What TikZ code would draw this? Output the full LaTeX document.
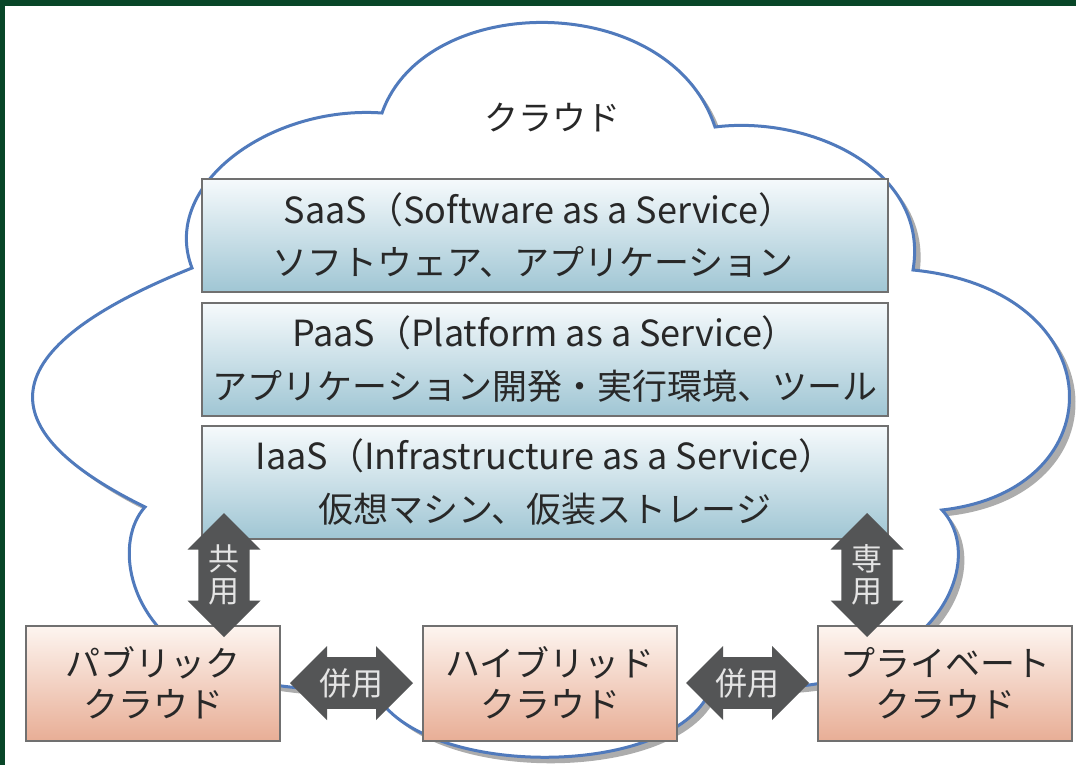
\documentclass[tikz,border=0pt]{standalone}
\usepackage{fontspec}
\setmainfont{Noto Sans CJK JP}
\usetikzlibrary{shapes.arrows,calc}

\definecolor{framegreen}{RGB}{8,70,40}
\definecolor{cloudline}{RGB}{80,122,188}
\definecolor{cloudshade}{RGB}{172,172,172}
\definecolor{layertop}{RGB}{246,250,252}
\definecolor{layerbot}{RGB}{160,198,212}
\definecolor{peachtop}{RGB}{253,245,240}
\definecolor{peachbot}{RGB}{232,174,150}
\definecolor{edgegray}{RGB}{112,112,112}
\definecolor{arrowgray}{RGB}{84,85,86}
\definecolor{arrowtext}{RGB}{228,228,228}
\definecolor{ink}{RGB}{40,40,40}

\tikzset{
  layerbox/.style={draw=edgegray, line width=2pt, top color=layertop, bottom color=layerbot,
    minimum width=686pt, minimum height=113pt, inner sep=0pt, align=center, text=ink},
  kindbox/.style={draw=edgegray, line width=2pt, top color=peachtop, bottom color=peachbot,
    minimum width=254pt, minimum height=115pt, inner sep=0pt, align=center, text=ink,
    font=\fontsize{35pt}{41pt}\selectfont},
  harrow/.style={double arrow, double arrow tip angle=90, fill=arrowgray, draw=none,
    minimum height=123pt, minimum width=74pt, inner sep=1.5pt, text=arrowtext,
    font=\fontsize{32pt}{32pt}\selectfont},
  varrow/.style={double arrow, double arrow tip angle=90, shape border rotate=90, fill=arrowgray, draw=none,
    minimum height=124pt, minimum width=73pt, inner sep=1pt, align=center, text=arrowtext,
    font=\fontsize{31pt}{32pt}\selectfont},
  cloudshape/.pic={
    \path[pic actions] (382,113) .. controls (425,-10) and (670,-10) .. (715,127)
      .. controls (810,115) and (930,170) .. (913,270)
      .. controls (1115,290) and (1118,490) .. (942,510)
      .. controls (975,545) and (960,620) .. (880,660)
      .. controls (840,690) and (770,690) .. (712,686)
      .. controls (680,780) and (420,780) .. (375,692)
      .. controls (330,690) and (240,690) .. (200,660)
      .. controls (125,620) and (115,540) .. (145,507)
      .. controls (-12,430) and (-12,350) .. (192,268)
      .. controls (160,185) and (270,105) .. (382,113) -- cycle;
  }
}

% the two lines of a layer label
\newcommand\layertext[2]{%
  {\fontsize{36pt}{44pt}\selectfont #1}\\[19pt]
  {\fontsize{35pt}{44pt}\selectfont #2}}

\begin{document}
\begin{tikzpicture}[x=1pt, y=-1pt]
  % frame and page
  \fill[framegreen] (0,0) rectangle (1076,765);
  \fill[white] (5,6) rectangle (1076,765);
  \useasboundingbox (0,0) rectangle (1076,765);

  % cloud with its soft shadow
  \pic[fill=cloudshade] at (6,6) {cloudshape};
  \pic[fill=white, draw=cloudline, line width=3pt] at (0,0) {cloudshape};

  \node[text=ink, font=\fontsize{34pt}{40pt}\selectfont] (title) at (552,118) {クラウド};

  % service layers
  \node[layerbox] (saas) at (545,235)
    {\layertext{SaaS（Software as a Service）\hspace*{12pt}}{ソフトウェア、アプリケーション\hspace*{24pt}}};
  \node[layerbox] (paas) at (545,359)
    {\layertext{PaaS（Platform as a Service）}{アプリケーション開発・実行環境、ツール}};
  \node[layerbox] (iaas) at (545,482)
    {\layertext{IaaS（Infrastructure as a Service）}{仮想マシン、仮装ストレージ}};

  % deployment models
  \node[kindbox] (pub)  at (153,683) {パブリック\\クラウド};
  \node[kindbox] (hyb)  at (550,683) {ハイブリッド\\クラウド};
  \node[kindbox] (priv) at (945,683) {プライベート\\クラウド};

  % usage arrows
  \node[varrow] (shared) at (224,575) {共\\用};
  \node[varrow] (dedicated) at (867,575) {専\\用};
  \node[harrow] (mixl) at ($(pub.east)!0.5!(hyb.west)$) {併用};
  \node[harrow] (mixr) at ($(hyb.east)!0.5!(priv.west)$) {併用};
\end{tikzpicture}
\end{document}
